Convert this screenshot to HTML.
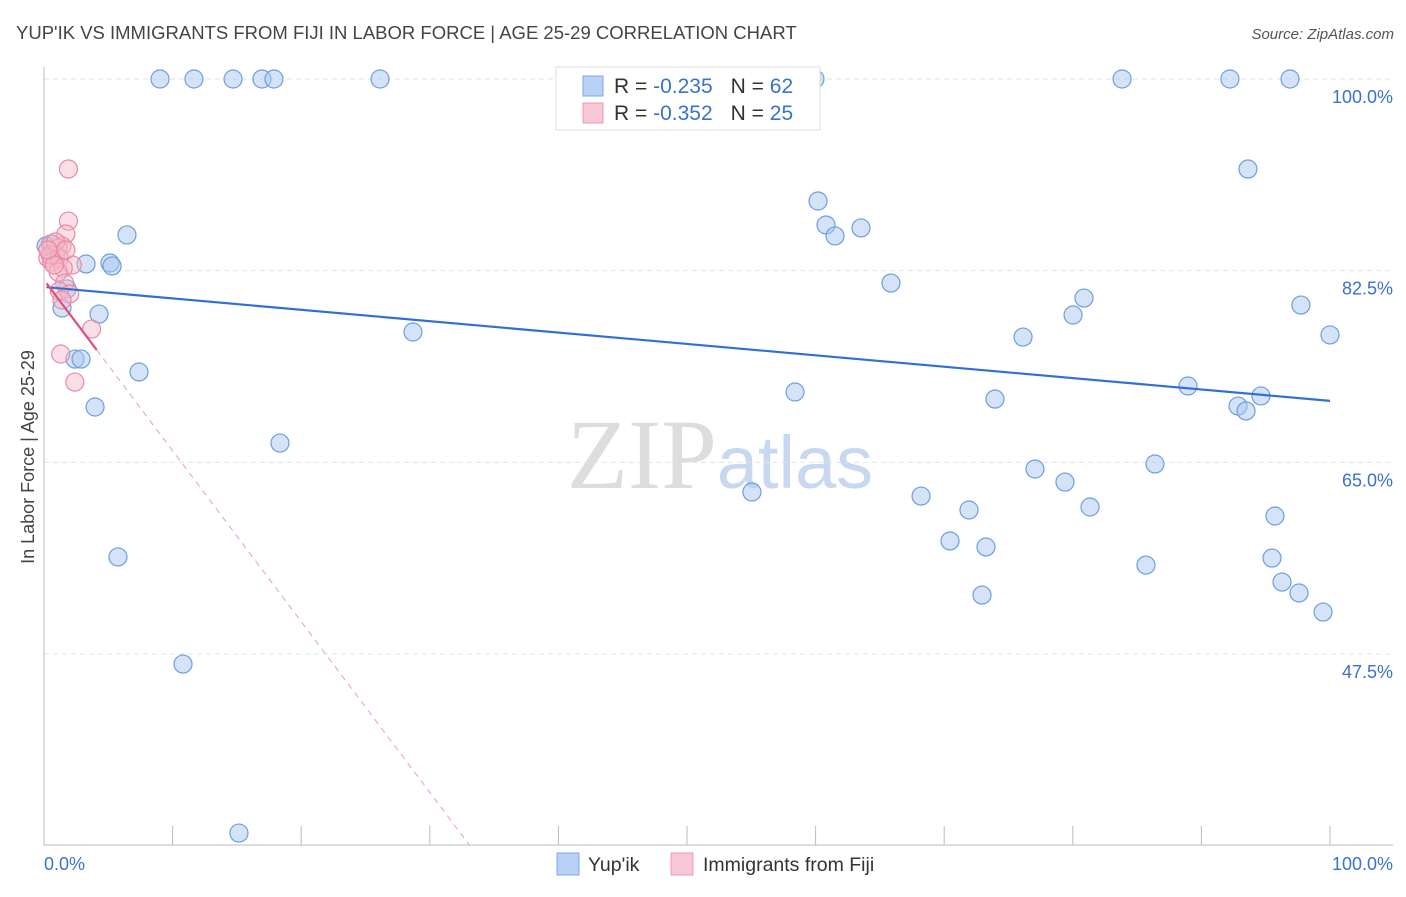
<!DOCTYPE html>
<html><head><meta charset="utf-8"><style>
body{margin:0;background:#fff;font-family:"Liberation Sans",sans-serif}
svg text{font-family:"Liberation Sans",sans-serif}
</style></head><body>
<svg id="chart" width="1406" height="892" xmlns="http://www.w3.org/2000/svg">
<text x="16" y="39" font-size="18.5" fill="#444">YUP'IK VS IMMIGRANTS FROM FIJI IN LABOR FORCE | AGE 25-29 CORRELATION CHART</text>
<text x="1394" y="39" font-size="15" fill="#555" text-anchor="end" font-style="italic">Source: ZipAtlas.com</text>
<text x="720" y="488" font-size="100" text-anchor="middle"><tspan fill="#ddd" font-family="Liberation Serif">ZIP</tspan><tspan fill="#c8d8f0" font-size="74">atlas</tspan></text>
<g id="grid"></g><g id="axes"></g><g id="marks"></g>
<text transform="translate(34,457) rotate(-90)" font-size="18" fill="#444" text-anchor="middle">In Labor Force | Age 25-29</text>
<g>
<rect x="556" y="67" width="264" height="63" fill="#fff" stroke="#ddd"/>
<rect x="583" y="76" width="20" height="20" fill="#b9d1f5" stroke="#7aa6e6"/>
<rect x="583" y="103" width="20" height="20" fill="#f9c6d5" stroke="#ea9bb3"/>
<text x="614" y="93" font-size="21" fill="#333">R = <tspan fill="#3a72cc">-0.235</tspan><tspan dx="18">N = </tspan><tspan fill="#3a72cc">62</tspan></text>
<text x="614" y="120" font-size="21" fill="#333">R = <tspan fill="#3a72cc">-0.352</tspan><tspan dx="18">N = </tspan><tspan fill="#3a72cc">25</tspan></text>
</g>
<g>
<rect x="557" y="853" width="22" height="22" fill="#b9d1f5" stroke="#7aa6e6"/>
<text x="588" y="871" font-size="19.5" fill="#333">Yup'ik</text>
<rect x="671" y="853" width="22" height="22" fill="#f9c6d5" stroke="#ea9bb3"/>
<text x="703" y="871" font-size="19.5" fill="#333">Immigrants from Fiji</text>
</g>
</svg>
<script>
const yTicks=[100,82.5,65,47.5];
const yTickLabels=["100.0%","82.5%","65.0%","47.5%"];
const xTicks=[0,10,20,30,40,50,60,70,80,90,100];
const blueX=[9.02,11.66,14.7,16.95,17.88,26.13,50.08,59.95,83.83,92.22,96.89,93.62,60.19,60.81,61.51,63.53,6.45,3.27,5.13,5.29,0.62,0.16,1.79,1.4,4.28,28.69,65.86,80.87,80.02,76.13,97.74,100,2.41,2.88,7.39,3.97,58.4,73.95,88.96,92.85,93.47,94.63,18.35,55.05,68.2,77.06,79.39,86.39,71.93,81.34,95.72,70.45,73.25,85.69,95.49,96.27,97.59,72.94,99.46,5.75,10.81,15.16];
const blueY=[100,100,100,100,100,100,100,100,100,100,100,91.78,88.86,86.67,85.67,86.4,85.76,83.11,83.2,82.93,84.93,84.75,80.83,79.09,78.54,76.9,81.37,80.0,78.45,76.44,79.36,76.63,74.43,74.43,73.25,70.05,71.42,70.78,71.97,70.14,69.69,71.06,66.76,62.29,61.92,64.39,63.2,64.85,60.65,60.92,60.1,57.82,57.27,55.62,56.26,54.07,53.07,52.88,51.33,56.36,46.58,31.15];
const pinkX=[1.9,1.9,1.7,1.4,0.5,1.1,0.9,0.3,0.6,1.2,2.2,1.5,1.1,1.6,1.2,2.0,3.7,1.3,2.4,0.5,0.9,0.8,1.7,0.3,1.4];
const pinkY=[91.78,87.03,85.85,84.75,84.93,84.57,83.93,83.66,83.29,83.66,83.02,82.74,82.38,81.37,80.64,80.37,77.17,74.89,72.33,83.93,85.12,83.02,84.39,84.39,79.82];
const trendBlue=[81.01,-0.104];
const trendPink=[81.66,-1.56];
const pinkSolidEnd=4.1;
const L=44,R=1330,T=79,B=845;
const sx=v=>L+v*(R-L)/100;
const sy=v=>T+(100-v)*(654-T)/52.5;
const NS='http://www.w3.org/2000/svg';
function mk(tag,attrs,parent){const e=document.createElementNS(NS,tag);for(const k in attrs)e.setAttribute(k,attrs[k]);document.getElementById(parent).appendChild(e);return e;}
yTicks.forEach((t,i)=>{
 const g=mk('line',{x1:L,x2:1393,y1:sy(t),y2:sy(t),stroke:'#e2e2e2','stroke-dasharray':'5,4'},'grid');
 
 
 const tx=mk('text',{x:1393,y:sy(t)+24,'font-size':18,fill:'#3a72cc','text-anchor':'end'},'axes');
 tx.textContent=yTickLabels[i];
 
 
});
const ya=mk('line',{x1:L,x2:L,y1:67,y2:B,stroke:'#bbb'},'axes');


const xa=mk('line',{x1:L,x2:1393,y1:B,y2:B,stroke:'#bbb'},'axes');


xTicks.forEach(t=>{const l=mk('line',{x1:sx(t),x2:sx(t),y1:826,y2:B,stroke:'#bbb'},'axes');
 
 });
const x0=mk('text',{x:44,y:870,'font-size':18,fill:'#3a72cc'},'axes');x0.textContent='0.0%';


const x1=mk('text',{x:1393,y:870,'font-size':18,fill:'#3a72cc','text-anchor':'end'},'axes');x1.textContent='100.0%';


blueX.forEach((v,i)=>{const c=mk('circle',{cx:sx(v),cy:sy(blueY[i]),r:9,fill:'rgba(169,200,240,0.5)',stroke:'#6d9ee0','stroke-width':1.2},'marks');
 
 });
pinkX.forEach((v,i)=>{const c=mk('circle',{cx:sx(v),cy:sy(pinkY[i]),r:9,fill:'rgba(244,183,201,0.45)',stroke:'#e98aa5','stroke-width':1.2},'marks');
 
 });
const tb=mk('line',{x1:sx(0.2),y1:sy(trendBlue[0]+trendBlue[1]*0.2),x2:sx(100),y2:sy(trendBlue[0]+trendBlue[1]*100),stroke:'#2f6fd6','stroke-width':2.2},'marks');


const xEnd=(30-trendPink[0])/trendPink[1];
const td=mk('line',{x1:sx(pinkSolidEnd),y1:sy(trendPink[0]+trendPink[1]*pinkSolidEnd),x2:sx(xEnd),y2:sy(30),stroke:'#e8a0b5','stroke-width':1,'stroke-dasharray':'6,5'},'marks');


const tp=mk('line',{x1:sx(0.2),y1:sy(trendPink[0]+trendPink[1]*0.2),x2:sx(pinkSolidEnd),y2:sy(trendPink[0]+trendPink[1]*pinkSolidEnd),stroke:'#e0507a','stroke-width':2.2},'marks');


</script>
</body></html>
